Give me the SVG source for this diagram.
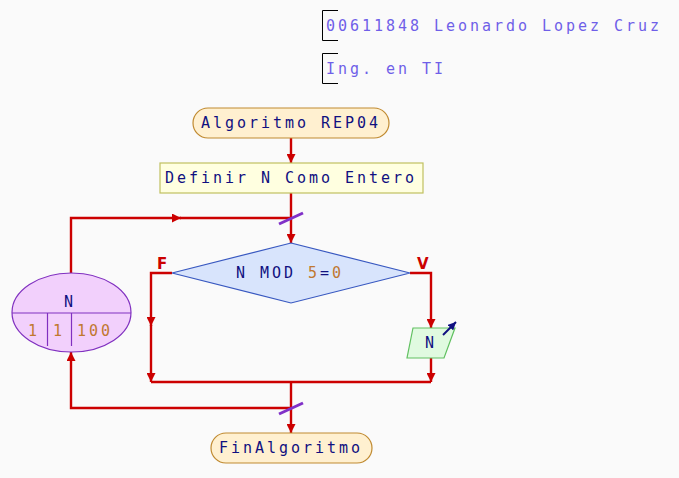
<svg xmlns="http://www.w3.org/2000/svg" width="679" height="478" viewBox="0 0 679 478">
<defs>
<style>
text{font-family:"DejaVu Sans Mono","Liberation Mono",monospace;font-size:15px;letter-spacing:2.97px;fill:#101080}
.hdr{fill:#6f5fe8}
.num{fill:#c07830}
.lbl{font-family:"DejaVu Sans","Liberation Sans",sans-serif;font-weight:bold;font-size:15px;fill:#cc0000;letter-spacing:0}
.c{fill:none;stroke:#cc0000;stroke-width:2.4}
.slash{stroke:#8030c8;stroke-width:3}
.brk{fill:none;stroke:#000;stroke-width:1}
.term{fill:#fff0d0;stroke:#c08a30;stroke-width:1.2}
.proc{fill:#ffffe0;stroke:#c0c060;stroke-width:1.2}
.dec{fill:#d8e4fc;stroke:#3858c0;stroke-width:1.2}
.out{fill:#e0fae0;stroke:#60c060;stroke-width:1.2}
.loop{fill:#f2d0fc;stroke:#8030c0;stroke-width:1.2}
</style>
<marker id="ah" viewBox="0 0 10 10" refX="10" refY="5" markerWidth="9" markerHeight="9" markerUnits="userSpaceOnUse" orient="auto">
<path d="M0,0 L10,5 L0,10 Z" fill="#cc0000"/>
</marker>
<marker id="ahn" viewBox="0 0 10 10" refX="10" refY="5" markerWidth="8" markerHeight="8" markerUnits="userSpaceOnUse" orient="auto">
<path d="M0,0 L10,5 L0,10 Z" fill="#101080"/>
</marker>
</defs>
<rect width="679" height="478" fill="#fafafa"/>
<g id="header">
<path class="brk" d="M338,10.5 H322.5 V40.5 H338"/>
<text class="hdr" x="326" y="31">00611848 Leonardo Lopez Cruz</text>
<path class="brk" d="M338,53.5 H322.5 V83.5 H338"/>
<text class="hdr" x="326" y="74">Ing. en TI</text>
</g>
<g id="connectors">
<line class="c" x1="291" y1="138" x2="291" y2="163" marker-end="url(#ah)"/>
<line class="c" x1="291" y1="193" x2="291" y2="243" marker-end="url(#ah)"/>
<polyline class="c" points="71,273 71,218 181,218"  marker-end="url(#ah)"/>
<line class="c" x1="180" y1="218" x2="291" y2="218"/>
<polyline class="c" points="172,273 151,273 151,326" marker-end="url(#ah)"/>
<line class="c" x1="151" y1="325" x2="151" y2="382" marker-end="url(#ah)"/>
<polyline class="c" points="410,273 431,273 431,328" marker-end="url(#ah)"/>
<line class="c" x1="431" y1="358" x2="431" y2="382" marker-end="url(#ah)"/>
<line class="c" x1="151" y1="382" x2="431" y2="382"/>
<line class="c" x1="291" y1="382" x2="291" y2="433" marker-end="url(#ah)"/>
<polyline class="c" points="291,408 71,408 71,352" marker-end="url(#ah)"/>
<line class="slash" x1="279" y1="224" x2="303" y2="213"/>
<line class="slash" x1="279" y1="414" x2="303" y2="403"/>
<text class="lbl" x="157" y="269">F</text>
<text class="lbl" x="417" y="269">V</text>
</g>
<g id="start">
<rect class="term" x="193" y="108" width="196" height="30" rx="15" ry="15"/>
<text x="201" y="128">Algoritmo REP04</text>
</g>
<g id="define">
<rect class="proc" x="160" y="163" width="263" height="30"/>
<text x="165" y="183">Definir N Como Entero</text>
</g>
<g id="loop">
<ellipse class="loop" cx="71.5" cy="312.5" rx="59.5" ry="39.5"/>
<line class="loop" x1="12" y1="313" x2="131" y2="313"/>
<line class="loop" x1="47.5" y1="313" x2="47.5" y2="346"/>
<line class="loop" x1="71.5" y1="313" x2="71.5" y2="346"/>
<text x="64" y="307">N</text>
<text class="num" x="28" y="336">1</text>
<text class="num" x="53" y="336">1</text>
<text class="num" x="77" y="336">100</text>
</g>
<g id="decision">
<polygon class="dec" points="291,243 410,273 291,303 172,273"/>
<text x="236" y="278">N MOD <tspan class="num">5</tspan>=<tspan class="num">0</tspan></text>
</g>
<g id="output">
<polygon class="out" points="413,328 455,328 444,358 407,358"/>
<text x="425" y="348">N</text>
<line x1="443" y1="335" x2="456" y2="322" stroke="#101080" stroke-width="2" marker-end="url(#ahn)"/>
</g>
<g id="end">
<rect class="term" x="211" y="433" width="161" height="30" rx="15" ry="15"/>
<text x="219" y="453">FinAlgoritmo</text>
</g>
</svg>
